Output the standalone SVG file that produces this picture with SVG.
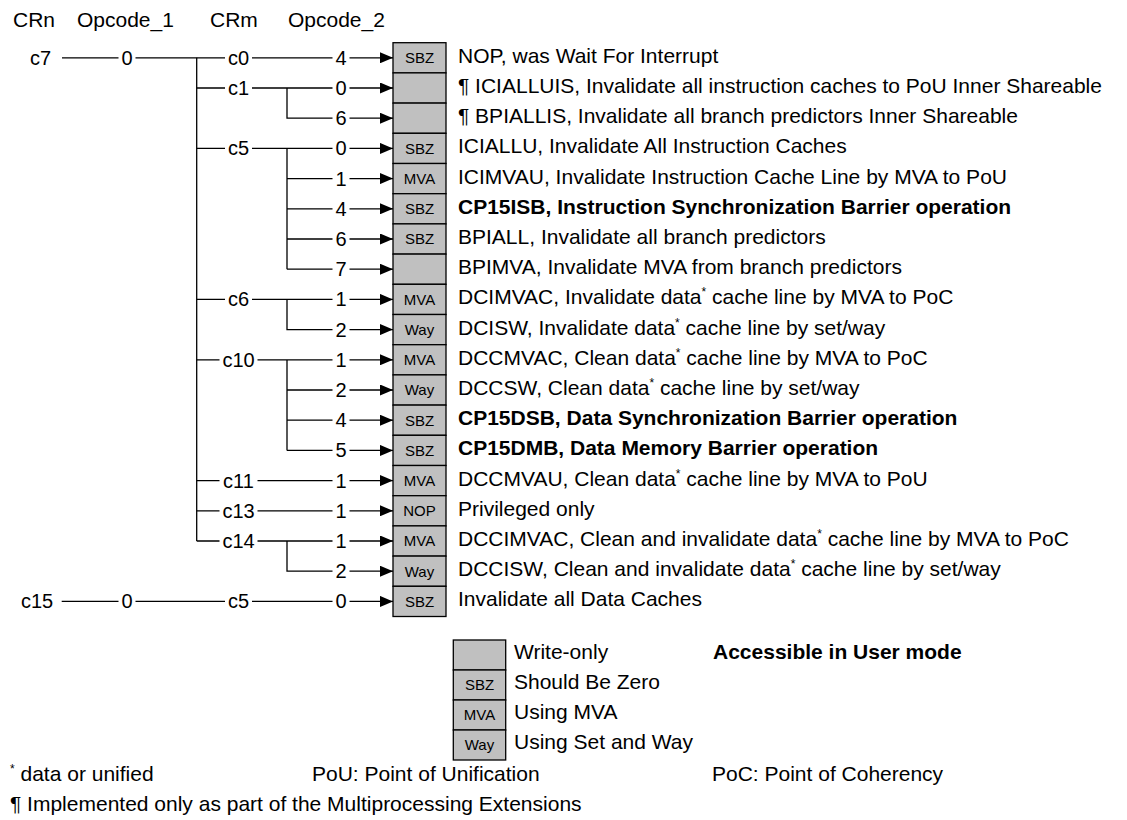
<svg xmlns="http://www.w3.org/2000/svg" width="1127" height="820" viewBox="0 0 1127 820">
<style>
text{font-family:"Liberation Sans",Arial,sans-serif;fill:#000}
.hdr{font-size:21px}
.lbl{font-size:20px;text-anchor:middle}
.lbs{font-size:20px}
.desc{font-size:21px}
.b{font-weight:bold}
.sup{font-size:12px}
.cell{fill:#c0c0c0;stroke:#000;stroke-width:1.3}
.ct{font-size:15px;text-anchor:middle}
.ln{fill:none;stroke:#000;stroke-width:1.3}
</style>
<defs>
<marker id="ah" markerUnits="userSpaceOnUse" markerWidth="13" markerHeight="11" refX="13" refY="5.5" orient="auto">
<path d="M0,0 L13,5.5 L0,11 z" fill="#000"/>
</marker>
</defs>
<rect width="1127" height="820" fill="#fff"/>
<g id="headers">
<text class="hdr" x="13" y="27">CRn</text>
<text class="hdr" x="77" y="27">Opcode_1</text>
<text class="hdr" x="210" y="27">CRm</text>
<text class="hdr" x="288" y="27">Opcode_2</text>
</g>
<g id="connectors" class="ln">
<path d="M62,57.8H118.5M135.5,57.8H225M252,57.8H332.5"/>
<path d="M196.7,57.8V541"/>
<path d="M196.7,88H225M252,88H332.5M287,88V118.2H332.5"/>
<path d="M196.7,148.4H225M252,148.4H332.5M287,148.4V269.2M287,178.6H332.5M287,208.8H332.5M287,239H332.5M287,269.2H332.5"/>
<path d="M196.7,299.4H225M252,299.4H332.5M287,299.4V329.6H332.5"/>
<path d="M196.7,359.8H219.5M257.5,359.8H332.5M287,359.8V450.4M287,390H332.5M287,420.2H332.5M287,450.4H332.5"/>
<path d="M196.7,480.6H219.5M257.5,480.6H332.5"/>
<path d="M196.7,510.8H219.5M257.5,510.8H332.5"/>
<path d="M196.7,541H219.5M257.5,541H332.5M287,541V571.2H332.5"/>
<path d="M61.7,601.4H118.5M135.5,601.4H225M252,601.4H332.5"/>
<g marker-end="url(#ah)">
<path d="M349.5,57.8H393"/><path d="M349.5,88H393"/><path d="M349.5,118.2H393"/>
<path d="M349.5,148.4H393"/><path d="M349.5,178.6H393"/><path d="M349.5,208.8H393"/>
<path d="M349.5,239H393"/><path d="M349.5,269.2H393"/><path d="M349.5,299.4H393"/>
<path d="M349.5,329.6H393"/><path d="M349.5,359.8H393"/><path d="M349.5,390H393"/>
<path d="M349.5,420.2H393"/><path d="M349.5,450.4H393"/><path d="M349.5,480.6H393"/>
<path d="M349.5,510.8H393"/><path d="M349.5,541H393"/><path d="M349.5,571.2H393"/>
<path d="M349.5,601.4H393"/>
</g>
</g>
<g id="crn-c7"><text class="lbs" x="30" y="64.8">c7</text></g>
<g id="op1-c7-0"><text class="lbl" x="127" y="64.8">0</text></g>
<g id="crn-c15"><text class="lbs" x="21" y="608.4">c15</text></g>
<g id="op1-c15-0"><text class="lbl" x="127" y="608.4">0</text></g>
<g id="crm-labels">
<text class="lbl" x="238.5" y="64.8">c0</text>
<text class="lbl" x="238.5" y="95">c1</text>
<text class="lbl" x="238.5" y="155.4">c5</text>
<text class="lbl" x="238.5" y="306.4">c6</text>
<text class="lbl" x="238.5" y="366.8">c10</text>
<text class="lbl" x="238.5" y="487.6">c11</text>
<text class="lbl" x="238.5" y="517.8">c13</text>
<text class="lbl" x="238.5" y="548">c14</text>
<text class="lbl" x="238.5" y="608.4">c5</text>
</g>
<g id="op2-labels">
<text class="lbl" x="341" y="64.8">4</text>
<text class="lbl" x="341" y="95">0</text>
<text class="lbl" x="341" y="125.2">6</text>
<text class="lbl" x="341" y="155.4">0</text>
<text class="lbl" x="341" y="185.6">1</text>
<text class="lbl" x="341" y="215.8">4</text>
<text class="lbl" x="341" y="246">6</text>
<text class="lbl" x="341" y="276.2">7</text>
<text class="lbl" x="341" y="306.4">1</text>
<text class="lbl" x="341" y="336.6">2</text>
<text class="lbl" x="341" y="366.8">1</text>
<text class="lbl" x="341" y="397">2</text>
<text class="lbl" x="341" y="427.2">4</text>
<text class="lbl" x="341" y="457.4">5</text>
<text class="lbl" x="341" y="487.6">1</text>
<text class="lbl" x="341" y="517.8">1</text>
<text class="lbl" x="341" y="548">1</text>
<text class="lbl" x="341" y="578.2">2</text>
<text class="lbl" x="341" y="608.4">0</text>
</g>
<g id="row0"><rect class="cell" x="393" y="42.7" width="53" height="30.2"/><text class="ct" x="419.5" y="63.2">SBZ</text><text class="desc" x="458" y="62.8">NOP, was Wait For Interrupt</text></g>
<g id="row1"><rect class="cell" x="393" y="72.9" width="53" height="30.2"/><text class="desc" x="458" y="93">¶ ICIALLUIS, Invalidate all instruction caches to PoU Inner Shareable</text></g>
<g id="row2"><rect class="cell" x="393" y="103.1" width="53" height="30.2"/><text class="desc" x="458" y="123.2">¶ BPIALLIS, Invalidate all branch predictors Inner Shareable</text></g>
<g id="row3"><rect class="cell" x="393" y="133.3" width="53" height="30.2"/><text class="ct" x="419.5" y="153.8">SBZ</text><text class="desc" x="458" y="153.4">ICIALLU, Invalidate All Instruction Caches</text></g>
<g id="row4"><rect class="cell" x="393" y="163.5" width="53" height="30.2"/><text class="ct" x="419.5" y="184">MVA</text><text class="desc" x="458" y="183.6">ICIMVAU, Invalidate Instruction Cache Line by MVA to PoU</text></g>
<g id="row5"><rect class="cell" x="393" y="193.7" width="53" height="30.2"/><text class="ct" x="419.5" y="214.2">SBZ</text><text class="desc b" x="458" y="213.8">CP15ISB, Instruction Synchronization Barrier operation</text></g>
<g id="row6"><rect class="cell" x="393" y="223.9" width="53" height="30.2"/><text class="ct" x="419.5" y="244.4">SBZ</text><text class="desc" x="458" y="244">BPIALL, Invalidate all branch predictors</text></g>
<g id="row7"><rect class="cell" x="393" y="254.1" width="53" height="30.2"/><text class="desc" x="458" y="274.2">BPIMVA, Invalidate MVA from branch predictors</text></g>
<g id="row8"><rect class="cell" x="393" y="284.3" width="53" height="30.2"/><text class="ct" x="419.5" y="304.8">MVA</text><text class="desc" x="458" y="304.4">DCIMVAC, Invalidate data<tspan class="sup" dy="-8">*</tspan><tspan dy="8"> cache line by MVA to PoC</tspan></text></g>
<g id="row9"><rect class="cell" x="393" y="314.5" width="53" height="30.2"/><text class="ct" x="419.5" y="335">Way</text><text class="desc" x="458" y="334.6">DCISW, Invalidate data<tspan class="sup" dy="-8">*</tspan><tspan dy="8"> cache line by set/way</tspan></text></g>
<g id="row10"><rect class="cell" x="393" y="344.7" width="53" height="30.2"/><text class="ct" x="419.5" y="365.2">MVA</text><text class="desc" x="458" y="364.8">DCCMVAC, Clean data<tspan class="sup" dy="-8">*</tspan><tspan dy="8"> cache line by MVA to PoC</tspan></text></g>
<g id="row11"><rect class="cell" x="393" y="374.9" width="53" height="30.2"/><text class="ct" x="419.5" y="395.4">Way</text><text class="desc" x="458" y="395">DCCSW, Clean data<tspan class="sup" dy="-8">*</tspan><tspan dy="8"> cache line by set/way</tspan></text></g>
<g id="row12"><rect class="cell" x="393" y="405.1" width="53" height="30.2"/><text class="ct" x="419.5" y="425.6">SBZ</text><text class="desc b" x="458" y="425.2">CP15DSB, Data Synchronization Barrier operation</text></g>
<g id="row13"><rect class="cell" x="393" y="435.3" width="53" height="30.2"/><text class="ct" x="419.5" y="455.8">SBZ</text><text class="desc b" x="458" y="455.4">CP15DMB, Data Memory Barrier operation</text></g>
<g id="row14"><rect class="cell" x="393" y="465.5" width="53" height="30.2"/><text class="ct" x="419.5" y="486">MVA</text><text class="desc" x="458" y="485.6">DCCMVAU, Clean data<tspan class="sup" dy="-8">*</tspan><tspan dy="8"> cache line by MVA to PoU</tspan></text></g>
<g id="row15"><rect class="cell" x="393" y="495.7" width="53" height="30.2"/><text class="ct" x="419.5" y="516.2">NOP</text><text class="desc" x="458" y="515.8">Privileged only</text></g>
<g id="row16"><rect class="cell" x="393" y="525.9" width="53" height="30.2"/><text class="ct" x="419.5" y="546.4">MVA</text><text class="desc" x="458" y="546">DCCIMVAC, Clean and invalidate data<tspan class="sup" dy="-8">*</tspan><tspan dy="8"> cache line by MVA to PoC</tspan></text></g>
<g id="row17"><rect class="cell" x="393" y="556.1" width="53" height="30.2"/><text class="ct" x="419.5" y="576.6">Way</text><text class="desc" x="458" y="576.2">DCCISW, Clean and invalidate data<tspan class="sup" dy="-8">*</tspan><tspan dy="8"> cache line by set/way</tspan></text></g>
<g id="row18"><rect class="cell" x="393" y="586.3" width="53" height="30.2"/><text class="ct" x="419.5" y="606.8">SBZ</text><text class="desc" x="458" y="606.4">Invalidate all Data Caches</text></g>
<g id="legend">
<rect class="cell" x="453.3" y="640" width="52.4" height="30"/>
<rect class="cell" x="453.3" y="670" width="52.4" height="30"/>
<rect class="cell" x="453.3" y="700" width="52.4" height="30"/>
<rect class="cell" x="453.3" y="730" width="52.4" height="30"/>
<text class="ct" x="479.5" y="690.4">SBZ</text>
<text class="ct" x="479.5" y="720.4">MVA</text>
<text class="ct" x="479.5" y="750.4">Way</text>
<text class="desc" x="514" y="659">Write-only</text>
<text class="desc" x="514" y="689">Should Be Zero</text>
<text class="desc" x="514" y="719">Using MVA</text>
<text class="desc" x="514" y="749">Using Set and Way</text>
<text class="desc b" x="713" y="659">Accessible in User mode</text>
</g>
<g id="footnotes">
<text class="desc" x="10" y="781"><tspan class="sup" dy="-8">*</tspan><tspan dy="8"> data or unified</tspan></text>
<text class="desc" x="312" y="781">PoU: Point of Unification</text>
<text class="desc" x="712" y="781">PoC: Point of Coherency</text>
<text class="desc" x="10" y="811">¶ Implemented only as part of the Multiprocessing Extensions</text>
</g>
</svg>
